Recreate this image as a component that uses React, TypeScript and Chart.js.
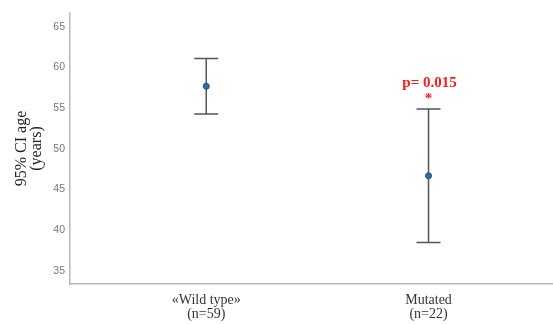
import React, { useEffect, useRef } from "react";
import { Chart, registerables } from "chart.js";
Chart.register(...registerables);

const categories = ["«Wild type»", "Mutated"];
const groupSizes = ["(n=59)", "(n=22)"];
const means = [57.7, 46.7];
const lowers = [54.3, 38.5];
const uppers = [61.1, 54.9];
const yTicks = [35, 40, 45, 50, 55, 60, 65];
const annotationText = ["p= 0.015", "*"];
const annotatedIndex = 1;

const errorBarPlugin = {
  id: "errorBars",
  beforeDatasetsDraw(chart: any) {
    const { ctx, scales } = chart;
    const xs = scales.x;
    const ys = scales.y;
    ctx.save();
    ctx.strokeStyle = "#555";
    ctx.lineWidth = 1.5;
    means.forEach((_, i) => {
      const x = xs.getPixelForValue(i);
      const yl = ys.getPixelForValue(lowers[i]);
      const yu = ys.getPixelForValue(uppers[i]);
      ctx.beginPath();
      ctx.moveTo(x, yl);
      ctx.lineTo(x, yu);
      ctx.moveTo(x - 12, yl);
      ctx.lineTo(x + 12, yl);
      ctx.moveTo(x - 12, yu);
      ctx.lineTo(x + 12, yu);
      ctx.stroke();
    });
    ctx.restore();
  },
  afterDatasetsDraw(chart: any) {
    const { ctx, scales } = chart;
    const x = scales.x.getPixelForValue(annotatedIndex);
    const yu = scales.y.getPixelForValue(uppers[annotatedIndex]);
    ctx.save();
    ctx.fillStyle = "#ff1a1a";
    ctx.textAlign = "center";
    ctx.textBaseline = "middle";
    ctx.font = "bold 15px 'Liberation Serif', serif";
    ctx.fillText(annotationText[0], x + 1, yu - 26);
    ctx.fillText(annotationText[1], x, yu - 10);
    ctx.restore();
  },
};

export default function App() {
  const ref = useRef<HTMLCanvasElement>(null);
  useEffect(() => {
    const chart = new Chart(ref.current!, {
      type: "scatter",
      data: {
        datasets: [
          {
            data: means.map((m, i) => ({ x: i, y: m })),
            backgroundColor: "#2a6db0",
            borderColor: "#1d4f82",
            borderWidth: 1,
            pointRadius: 3,
          },
        ],
      },
      options: {
        animation: false,
        responsive: false,
        maintainAspectRatio: false,
        layout: { autoPadding: false, padding: { top: 13, right: 0, left: 0, bottom: 0 } },
        plugins: { legend: { display: false }, tooltip: { enabled: false } },
        scales: {
          x: {
            type: "linear",
            min: -0.613,
            max: 1.56,
            afterBuildTicks: (s: any) => {
              s.ticks = categories.map((_, i) => ({ value: i }));
            },
            afterFit: (s: any) => {
              s.height = 40;
              s.paddingRight = 0;
              s.paddingLeft = 0;
            },
            grid: { display: false, drawTicks: false },
            border: { display: true, color: "#b8b8b8", width: 1.5 },
            ticks: {
              padding: 9,
              maxRotation: 0,
              color: "#333",
              font: { family: "'Liberation Serif', serif", size: 14, lineHeight: 1.0 },
              callback: (v: any) => [categories[v], groupSizes[v]],
            },
          },
          y: {
            min: 33.4,
            max: 66.7,
            afterBuildTicks: (s: any) => {
              s.ticks = yTicks.map((v) => ({ value: v }));
            },
            afterFit: (s: any) => {
              s.width = 70;
            },
            grid: { display: false, drawTicks: false },
            border: { display: true, color: "#b8b8b8", width: 1.5 },
            ticks: {
              padding: 5,
              color: "#777",
              font: { family: "'Liberation Sans', Arial, sans-serif", size: 10.5 },
            },
            title: {
              display: true,
              text: ["95% CI age", "(years)"],
              color: "#222",
              padding: { top: 14, bottom: 0 },
              font: { family: "'Liberation Serif', serif", size: 16, lineHeight: 0.95 },
            },
          },
        },
      },
      plugins: [errorBarPlugin],
    });
    return () => chart.destroy();
  }, []);
  return (
    <div style={{ position: "fixed", left: 0, top: 0, width: 553, height: 324, background: "#fff" }}>
      <canvas ref={ref} width={553} height={324} />
    </div>
  );
}
